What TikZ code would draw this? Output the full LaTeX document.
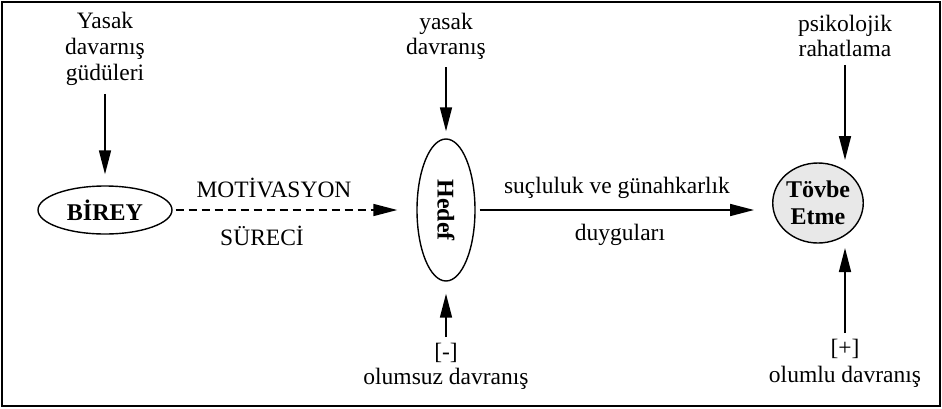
\documentclass[tikz,border=0pt]{standalone}
\usepackage{fontspec}
\setmainfont{Liberation Serif}
\usepackage{graphicx}
\usetikzlibrary{arrows.meta,shapes.geometric}
\begin{document}
\begin{tikzpicture}[x=1pt,y=-1pt,
  lbl/.style={font=\fontsize{23.5}{25}\selectfont, align=center, inner sep=0pt},
  el/.style={draw, ellipse, line width=1.4pt, inner sep=0pt, font=\bfseries\fontsize{24}{27}\selectfont, align=center},
  arr/.style={line width=1.6pt, -{Triangle[length=24pt,width=12pt]}},
]
\useasboundingbox (0,0) rectangle (942,408);
\draw[line width=1.5pt] (2,2) rectangle (940,406);

% nodes
\node[el, minimum width=134pt, minimum height=48pt] (birey) at (105,210) {BİREY};
\node[el, minimum width=58pt, minimum height=142pt] (hedef) at (446,210) {\rotatebox{-90}{Hedef}};
\node[el, fill=gray!18, minimum width=88pt, minimum height=80pt] (tovbe) at (818,203) {Tövbe\\Etme};

\node[lbl, font=\fontsize{23.5}{26}\selectfont] (yg) at (105,49) {Yasak\\davarnış\\güdüleri};
\node[lbl] (yd) at (446,36) {yasak\\davranış};
\node[lbl] (pr) at (845,36) {psikolojik\\rahatlama};

\node[lbl] (mot) at (274,188) {MOTİVASYON};
\node[lbl] (sur) at (262,236) {SÜRECİ};
\node[lbl] (suc) at (617,188) {suçluluk ve günahkarlık};
\node[lbl] (duy) at (620,235) {duyguları};

\node[lbl] (minus) at (446,353) {[-]};
\node[lbl] (olmz) at (446,379) {olumsuz davranış};
\node[lbl] (plus) at (845,349) {[+]};
\node[lbl] (olml) at (845,377) {olumlu davranış};

\coordinate (t1) at (845,160);
\coordinate (t2) at (845,248);

% connectors
\draw[arr, shorten <=8pt, shorten >=11pt] (yg.south) -- (birey.north);
\draw[arr, shorten <=8pt, shorten >=7pt] (yd.south) -- (hedef.north);
\draw[arr, shorten <=6pt, shorten >=12pt] (minus.north) -- (hedef.south);
\draw[arr, dash pattern=on 8pt off 5pt, shorten <=3pt] (birey.east) -- ([xshift=-19pt]birey.east -| hedef.west);
\draw[arr, shorten <=4pt] (hedef.east) -- ([xshift=-18pt]hedef.east -| tovbe.west);
\draw[arr, shorten <=8pt] (pr.south) -- (t1);
\draw[arr, shorten <=6pt] (plus.north) -- (t2);
\end{tikzpicture}
\end{document}
